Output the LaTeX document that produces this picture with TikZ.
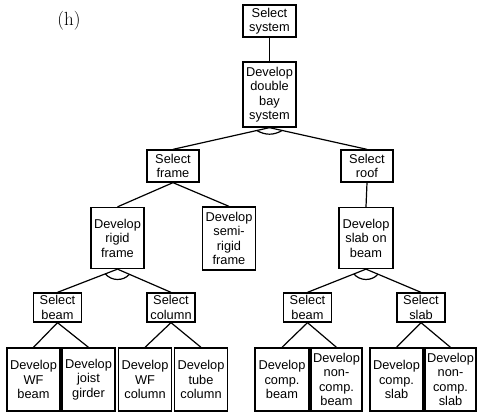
\documentclass[tikz,border=0pt]{standalone}
\usepackage{fontspec}
\newfontfamily\boxfont{Liberation Sans}
\usetikzlibrary{calc}
% AND-arc joining the two links that leave a goal node
\newcommand\andlink[4]{%
  \draw[link] ($(#1.south)!13pt!(#2.north)$) to[bend right=#4] ($(#1.south)!13pt!(#3.north)$);}
\begin{document}
\begin{tikzpicture}[x=1pt,y=-1pt,
  goal/.style={draw, line width=1.3pt, inner sep=0pt, align=center,
    minimum width=53pt, font=\boxfont\fontsize{12.8}{14.5}\selectfont},
  sel/.style={goal, minimum height=32pt},
  selsm/.style={goal, minimum height=29pt, minimum width=48pt},
  sub/.style={goal, minimum height=61pt},
  leaf/.style={goal, minimum height=63pt},
  link/.style={line width=1.2pt}]
\useasboundingbox (0,0) rectangle (477,414);

\node[font=\fontsize{19}{21}\selectfont] (lbl) at (69,21) {(h)};

% top levels
\node[sel] (sys) at (269.5,21) {Select\\system};
\node[goal, minimum height=65pt] (ddbs) at (269.5,94.5) {Develop\\double\\bay\\system};
\node[sel, minimum width=52pt] (sframe) at (173,166) {Select\\frame};
\node[sel, minimum width=52pt] (sroof) at (367,166) {Select\\roof};

% second level
\node[sub] (drigid) at (117.5,238) {Develop\\rigid\\frame};
\node[sub, minimum height=63pt] (dsemi) at (229,238.5) {Develop\\semi-\\rigid\\frame};
\node[sub, minimum width=54pt] (dslab) at (366,238) {Develop\\slab on\\beam};

% third level
\node[selsm] (sbeamA) at (57.5,307.5) {Select\\beam};
\node[selsm] (scol) at (171,307.5) {Select\\column};
\node[selsm] (sbeamB) at (307.5,307.5) {Select\\beam};
\node[selsm] (sslab) at (421,307.5) {Select\\slab};

% leaves
\node[leaf] (wfb) at (33.5,379.5) {Develop\\WF\\beam};
\node[leaf] (joist) at (88.5,379.5) {Develop\\joist\\girder};
\node[leaf] (wfc) at (145,379.5) {Develop\\WF\\column};
\node[leaf] (tube) at (201,379.5) {Develop\\tube\\column};
\node[leaf, minimum width=54pt] (compb) at (282,379.5) {Develop\\comp.\\beam};
\node[leaf, minimum width=51pt] (ncompb) at (336.5,379.5) {Develop\\non-\\comp.\\beam};
\node[leaf] (comps) at (396.5,379.5) {Develop\\comp.\\slab};
\node[leaf, minimum width=51pt] (ncomps) at (450.5,379.5) {Develop\\non-\\comp.\\slab};

% links
\draw[link] (sys.south) -- (ddbs.north);
\draw[link] (ddbs.south) -- (sframe.north);
\draw[link] (ddbs.south) -- (sroof.north);
\andlink{ddbs}{sframe}{sroof}{30}

\draw[link] (sframe.south) -- (drigid.north);
\draw[link] (sframe.south) -- (dsemi.north);
\draw[link] (sroof.south) -- (dslab.north);

\draw[link] (drigid.south) -- (sbeamA.north);
\draw[link] (drigid.south) -- (scol.north);
\andlink{drigid}{sbeamA}{scol}{50}
\draw[link] (dslab.south) -- (sbeamB.north);
\draw[link] (dslab.south) -- (sslab.north);
\andlink{dslab}{sbeamB}{sslab}{50}

\draw[link] (sbeamA.south) -- (wfb.north);
\draw[link] (sbeamA.south) -- (joist.north);
\draw[link] (scol.south) -- (wfc.north);
\draw[link] (scol.south) -- (tube.north);
\draw[link] (sbeamB.south) -- (compb.north);
\draw[link] (sbeamB.south) -- (ncompb.north);
\draw[link] (sslab.south) -- (comps.north);
\draw[link] (sslab.south) -- (ncomps.north);
\end{tikzpicture}
\end{document}
